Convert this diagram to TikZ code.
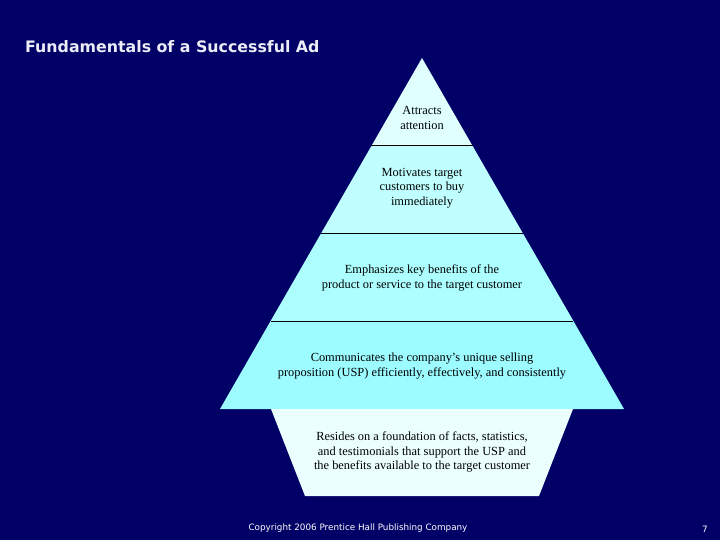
\documentclass[tikz,border=0pt]{standalone}
\usepackage{fontspec}
\setmainfont{Liberation Serif}
\newfontfamily\slidefont{DejaVu Sans}
\usetikzlibrary{positioning}
\definecolor{slidebg}{RGB}{0,0,102}
\definecolor{tierA}{RGB}{224,255,255}
\definecolor{tierB}{RGB}{192,255,255}
\definecolor{tierC}{RGB}{173,255,255}
\definecolor{tierD}{RGB}{156,252,255}
\definecolor{base}{RGB}{235,255,255}
\definecolor{titletext}{RGB}{236,236,246}
\tikzset{tier/.style={align=center,inner sep=0pt,text=black,font=\fontsize{12.4}{14.5}\selectfont},
  divider/.style={draw=black,line width=1pt}}

\begin{document}
\begin{tikzpicture}[x=1pt,y=-1pt]
\fill[slidebg] (0,0) rectangle (720,540);
% pyramid tiers, top to bottom
\fill[tierA] (422,58) -- (472.6,146) -- (371.4,146) -- cycle;
\fill[tierB] (371.4,146) -- (472.6,146) -- (522.7,233) -- (321.3,233) -- cycle;
\fill[tierC] (321.3,233) -- (522.7,233) -- (573.4,321) -- (270.6,321) -- cycle;
\fill[tierD] (270.6,321) -- (573.4,321) -- (624,409) -- (220,409) -- cycle;
% foundation
\fill[base] (271,409) -- (573,409) -- (539,496) -- (305,496) -- cycle;
\draw[divider] (371.4,146) -- (472.6,146);
\draw[divider] (321.3,233) -- (522.7,233);
\draw[divider] (270.6,321) -- (573.4,321);

\node[anchor=west,inner sep=0pt,text=titletext,font=\slidefont\bfseries\fontsize{15.8}{18}\selectfont] (title) at (25,47) {Fundamentals of a Successful Ad};

\node[tier] (attn) at (422,118) {Attracts\\attention};
\node[tier] (motiv) at (422,188) {Motivates target\\customers to buy\\immediately};
\node[tier] (benef) at (422,278) {Emphasizes key benefits of the\\product or service to the target customer};
\node[tier] (usp) at (422,366) {Communicates the company's unique selling\\proposition (USP) efficiently, effectively, and consistently};
\node[tier] (found) at (422,452) {Resides on a foundation of facts, statistics,\\and testimonials that support the USP and\\the benefits available to the target customer};

\node[text=white,font=\slidefont\fontsize{8.8}{10}\selectfont] (copy) at (358,528) {Copyright 2006 Prentice Hall Publishing Company};
\node[text=white,font=\slidefont\fontsize{8.8}{10}\selectfont] (page) at (705,529) {7};
\end{tikzpicture}
\end{document}
